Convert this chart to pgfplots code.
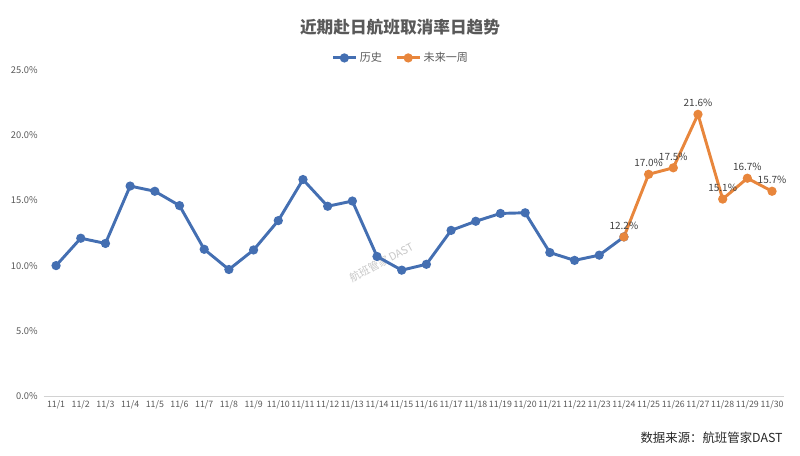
\documentclass[border=0pt]{standalone}
\usepackage{fontspec}
\setmainfont{Noto Sans CJK SC}
\usepackage{pgfplots}
\pgfplotsset{compat=1.18}
\definecolor{histblue}{RGB}{68,111,178}
\definecolor{futorange}{RGB}{232,134,60}
\definecolor{txtgray}{RGB}{89,89,89}
\definecolor{lblgray}{RGB}{64,64,64}
\definecolor{axgray}{RGB}{210,210,210}
\begin{document}
\begin{tikzpicture}
\path[use as bounding box] (0,0) rectangle (600pt,342pt);
\node[font=\fontsize{12.5}{14}\selectfont\bfseries, text=txtgray] at (300pt,321.5pt) {近期赴日航班取消率日趋势};
\node[font=\fontsize{9.3}{11}\selectfont, text=black!85, anchor=east] at (590.5pt,13.5pt) {数据来源：航班管家DAST};
\node[font=\fontsize{8}{10}\selectfont, text=black!22, rotate=28] at (286pt,145pt) {航班管家\,DAST};
\begin{axis}[
  at={(32.8pt,45pt)}, anchor=south west,
  scale only axis, width=555.5pt, height=244.5pt,
  xmin=-0.5, xmax=29.5, ymin=0, ymax=25,
  axis x line*=bottom, axis y line*=left,
  x axis line style={draw=axgray, line width=0.6pt, -},
  y axis line style={draw=none},
  xtick={0,...,29},
  xticklabels={11/1,11/2,11/3,11/4,11/5,11/6,11/7,11/8,11/9,11/10,11/11,11/12,11/13,11/14,11/15,11/16,11/17,11/18,11/19,11/20,11/21,11/22,11/23,11/24,11/25,11/26,11/27,11/28,11/29,11/30},
  major x tick style={draw=none},
  extra x ticks={-0.5,0.5,...,29.5},
  extra x tick labels={},
  extra x tick style={tick style={draw=axgray, line width=0.5pt}, major tick length=3pt, tick align=outside, grid=none},
  ytick={0,5,10,15,20,25},
  yticklabels={0.0\%,5.0\%,10.0\%,15.0\%,20.0\%,25.0\%},
  major y tick style={draw=none},
  tick label style={font=\fontsize{7}{8}\selectfont, text=txtgray},
  xticklabel style={font=\fontsize{6.6}{8}\selectfont, inner sep=1pt, yshift=-2pt},
  yticklabel style={xshift=-1pt},
  /pgf/number format/assume math mode=true,
  clip=false,
  legend columns=2,
  legend style={draw=none, fill=none, at={(0.4825,1.037)}, anchor=center,
    font=\fontsize{8.3}{10}\selectfont, text=txtgray,
    /tikz/every even column/.append style={column sep=8pt}},
  legend image code/.code={
    \draw[#1, mark repeat=2, mark phase=2] plot coordinates {(0cm,0cm) (0.3cm,0cm) (0.6cm,0cm)};},
]
\addplot[histblue, line width=2.2pt, mark=*, mark size=2.3pt, mark options={solid}] coordinates {
(0,10.0) (1,12.1) (2,11.7) (3,16.1) (4,15.7) (5,14.6) (6,11.25) (7,9.7) (8,11.2) (9,13.45)
(10,16.6) (11,14.55) (12,14.95) (13,10.7) (14,9.65) (15,10.1) (16,12.7) (17,13.4) (18,14.0) (19,14.05)
(20,11.0) (21,10.4) (22,10.8) (23,12.2)
};
\addlegendentry{历史}
\addplot[futorange, line width=2.2pt, mark=*, mark size=2.3pt, mark options={solid},
  nodes near coords={\pgfmathprintnumber[fixed,fixed zerofill,precision=1]{\pgfplotspointmeta}\%},
  every node near coord/.append style={font=\fontsize{7.5}{9}\selectfont, text=lblgray, anchor=south, yshift=1pt}
] coordinates {
(23,12.2) (24,17.0) (25,17.5) (26,21.6) (27,15.1) (28,16.7) (29,15.7)
};
\addlegendentry{未来一周}
\end{axis}
\end{tikzpicture}
\end{document}
